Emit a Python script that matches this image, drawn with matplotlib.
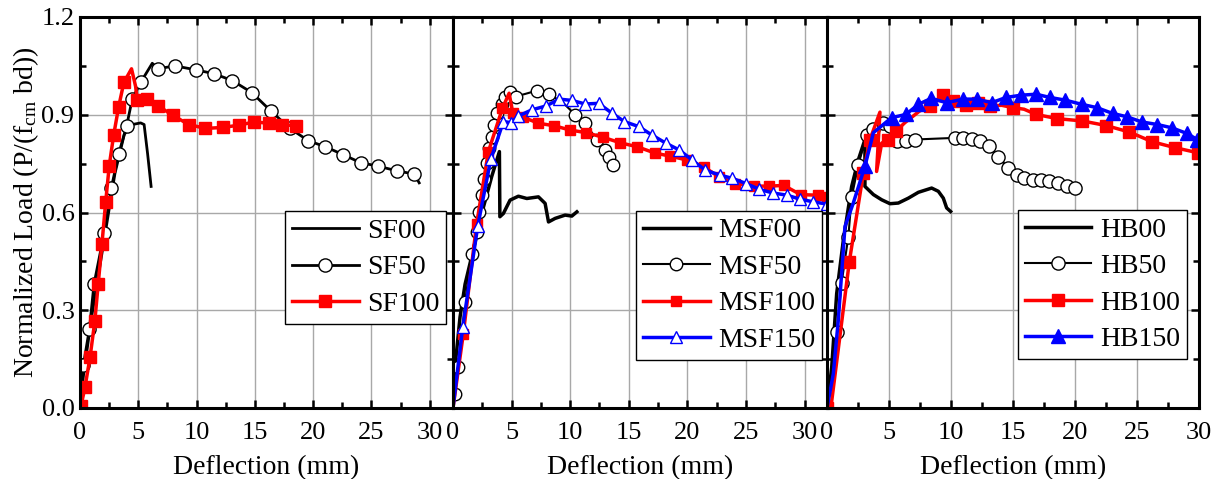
import matplotlib
matplotlib.use("Agg")
import matplotlib.pyplot as plt
from matplotlib.ticker import MultipleLocator, FormatStrFormatter

plt.rcParams['font.family'] = ['Liberation Serif', 'DejaVu Serif']
plt.rcParams['mathtext.fontset'] = 'custom'
plt.rcParams['mathtext.rm'] = 'Liberation Serif'
plt.rcParams['mathtext.it'] = 'Liberation Serif:italic'

# ---------------- Panel 1: SF ----------------
sf00_x = [0, 0.3, 1.0, 2.0, 3.0, 3.8, 4.5, 5.2, 5.5, 5.8, 6.1]
sf00_y = [0, 0.10, 0.28, 0.50, 0.72, 0.84, 0.87, 0.875, 0.87, 0.78, 0.68]

sf50_x = [0, 0.29, 0.81, 1.2, 2.08, 2.69, 3.32, 3.99, 4.48, 5.2, 6.2, 6.65, 8.15, 9.91, 11.5,
          13.06, 14.74, 16.42, 17.98, 19.6, 21.04, 22.54, 24.07, 25.6, 27.17, 28.67, 29.1]
sf50_y = [0, 0.132, 0.243, 0.38, 0.538, 0.676, 0.78, 0.864, 0.948, 0.999, 1.058, 1.041, 1.05,
          1.038, 1.026, 1.005, 0.968, 0.91, 0.859, 0.82, 0.802, 0.778, 0.753, 0.742, 0.728,
          0.718, 0.691]
sf50_mk = [i for i in range(26) if i != 10]

sf100_x = [0.09, 0.43, 0.87, 1.27, 1.56, 1.88, 2.2, 2.51, 2.89, 3.32, 3.76, 4.42, 4.77, 4.91,
           5.78, 6.73, 7.95, 9.34, 10.75, 12.23, 13.64, 14.94, 16.2, 17.34, 18.5]
sf100_y = [0.007, 0.064, 0.158, 0.266, 0.38, 0.502, 0.631, 0.744, 0.838, 0.925, 0.999, 1.041,
           0.987, 0.944, 0.949, 0.927, 0.898, 0.87, 0.858, 0.861, 0.868, 0.878, 0.874, 0.87, 0.866]
sf100_mk = [i for i in range(25) if i not in (11, 12)]

# ---------------- Panel 2: MSF ----------------
msf00_x = [0, 0.17, 0.6, 1.03, 2.6, 3.3, 3.96, 4.0, 4.3, 4.87, 5.58, 6.3, 7.29, 7.86, 8.15,
           8.72, 9.57, 10.14, 10.57]
msf00_y = [0, 0.125, 0.279, 0.38, 0.617, 0.71, 0.787, 0.587, 0.597, 0.638, 0.65, 0.643, 0.648,
           0.628, 0.571, 0.582, 0.592, 0.589, 0.602]

msf50_x = [0, 0.17, 0.46, 1.03, 1.6, 2.02, 2.22, 2.45, 2.68, 2.88, 3.1, 3.3, 3.5, 3.79, 4.16,
           4.44, 4.87, 5.3, 5.38, 7.15, 8.15, 9.3, 10.43, 11.28, 12.28, 13.0, 13.28, 13.65]
msf50_y = [0, 0.043, 0.125, 0.325, 0.474, 0.54, 0.602, 0.653, 0.702, 0.751, 0.797, 0.833, 0.869,
           0.905, 0.933, 0.956, 0.971, 0.978, 0.956, 0.974, 0.963, 0.94, 0.9, 0.874, 0.823, 0.792,
           0.771, 0.746]
msf50_mk = [i for i in range(28) if i not in (0, 17, 21)]

msf100_x = [0, 0.88, 2.02, 3.02, 4.22, 4.79, 5.1, 6.01, 7.29, 8.66, 10.0, 11.37, 12.79, 14.27,
            15.7, 17.27, 18.55, 19.97, 21.4, 22.68, 24.1, 25.67, 26.95, 28.23, 29.66, 31.14, 31.93]
msf100_y = [0, 0.228, 0.566, 0.787, 0.92, 0.966, 0.905, 0.892, 0.874, 0.866, 0.853, 0.845, 0.831,
            0.814, 0.802, 0.782, 0.773, 0.761, 0.74, 0.71, 0.689, 0.681, 0.681, 0.683, 0.655,
            0.653, 0.648]
msf100_mk = [i for i in range(27) if i not in (0, 5)]

msf150_x = [0, 0.83, 2.11, 3.22, 4.3, 4.93, 5.58, 6.72, 7.95, 9.06, 10.14, 11.28, 12.42, 13.56,
            14.62, 15.83, 16.97, 18.2, 19.31, 20.4, 21.53, 22.76, 23.82, 25.01, 26.15, 27.29,
            28.52, 29.6, 30.71, 31.88]
msf150_y = [0, 0.248, 0.558, 0.763, 0.879, 0.876, 0.896, 0.915, 0.927, 0.948, 0.944, 0.933, 0.935,
            0.905, 0.879, 0.864, 0.838, 0.812, 0.792, 0.761, 0.73, 0.715, 0.705, 0.689, 0.671,
            0.66, 0.653, 0.641, 0.633, 0.626]
msf150_mk = list(range(1, 30))

# ---------------- Panel 3: HB ----------------
hb00_x = [0, 0.38, 0.78, 1.32, 1.99, 2.53, 3.06, 3.06, 3.74, 4.41, 5.08, 5.75, 6.56, 7.37,
          8.44, 8.98, 9.38, 9.65, 9.97]
hb00_y = [0, 0.125, 0.351, 0.516, 0.68, 0.762, 0.824, 0.68, 0.655, 0.639, 0.627, 0.629, 0.644,
          0.662, 0.675, 0.665, 0.644, 0.614, 0.603]

hb50_x = [0, 0.78, 1.18, 1.72, 1.99, 2.53, 3.2, 3.74, 4.54, 5.08, 5.62, 6.37, 7.09, 10.3,
          10.99, 11.67, 12.34, 13.09, 13.82, 14.62, 15.3, 15.89, 16.59, 17.23, 17.93, 18.6,
          19.33, 20.0]
hb50_y = [0, 0.233, 0.384, 0.526, 0.647, 0.747, 0.838, 0.855, 0.876, 0.865, 0.819, 0.819, 0.824,
          0.829, 0.829, 0.826, 0.819, 0.804, 0.77, 0.737, 0.716, 0.706, 0.701, 0.699, 0.696,
          0.69, 0.682, 0.675]

hb100_x = [0, 0.35, 1.8, 2.93, 3.47, 4.27, 4.0, 4.41, 4.95, 5.56, 6.29, 7.45, 8.3, 9.33,
           10.19, 11.21, 12.21, 13.15, 14.09, 14.97, 15.89, 16.86, 18.58, 20.59, 22.5, 24.38,
           26.24, 28.06, 29.95]
hb100_y = [0, 0.012, 0.449, 0.721, 0.824, 0.908, 0.726, 0.813, 0.824, 0.85, 0.876, 0.911, 0.927,
           0.961, 0.942, 0.929, 0.935, 0.927, 0.929, 0.922, 0.917, 0.901, 0.888, 0.881, 0.867,
           0.847, 0.817, 0.799, 0.783]
hb100_mk = [0, 2, 3, 4, 8, 9, 12, 13, 14, 15, 16, 17, 19, 21, 22, 23, 24, 25, 26, 27, 28]

hb150_x = [0, 0.51, 0.91, 1.45, 2.12, 3.06, 3.74, 5.21, 6.37, 7.37, 8.39, 9.65, 10.99, 12.07,
           13.28, 14.43, 15.64, 16.86, 17.99, 19.2, 20.54, 21.75, 23.04, 24.17, 25.38, 26.64,
           27.8, 29.0, 29.86]
hb150_y = [0, 0.105, 0.269, 0.557, 0.629, 0.742, 0.845, 0.891, 0.901, 0.932, 0.95, 0.937, 0.948,
           0.948, 0.937, 0.953, 0.96, 0.963, 0.953, 0.945, 0.932, 0.922, 0.904, 0.894, 0.878,
           0.87, 0.86, 0.843, 0.824]
hb150_mk = [5] + list(range(7, 29))

W, H = 1217, 479
fig = plt.figure(figsize=(W / 100, H / 100), dpi=100)

bottom = 71 / H
height = 391 / H
ax1 = fig.add_axes([80 / W, bottom, 373 / W, height])
ax2 = fig.add_axes([453 / W, bottom, 375 / W, height])
ax3 = fig.add_axes([827 / W, bottom, 372 / W, height])

FS_TICK = 19
FS_LAB = 20
FS_LEG = 20


def style(ax, xmax, show_y):
    ax.set_xlim(0, xmax)
    ax.set_ylim(0, 1.2)
    ax.xaxis.set_major_locator(MultipleLocator(5))
    ax.xaxis.set_minor_locator(MultipleLocator(2.5))
    ax.yaxis.set_major_locator(MultipleLocator(0.3))
    ax.yaxis.set_minor_locator(MultipleLocator(0.15))
    ax.yaxis.set_major_formatter(FormatStrFormatter('%.1f'))
    ax.grid(True, which='major', color='#a8a8a8', linewidth=1.0)
    ax.set_axisbelow(True)
    ax.tick_params(which='both', direction='in', top=True, right=True,
                   labelsize=FS_TICK, width=1.8)
    ax.tick_params(axis='x', which='both', pad=10)
    ax.tick_params(axis='y', which='both', pad=4)
    ax.tick_params(which='major', length=6)
    ax.tick_params(which='minor', length=4)
    if not show_y:
        ax.tick_params(axis='y', labelleft=False)
    for s in ax.spines.values():
        s.set_linewidth(2.2)
    ax.set_xlabel('Deflection (mm)', fontsize=FS_LAB, labelpad=8)


def leg(ax, anchor):
    ax.legend(loc='lower left', bbox_to_anchor=anchor, fontsize=FS_LEG, frameon=True,
              fancybox=False, edgecolor='black', framealpha=1, handlelength=2.4,
              handletextpad=0.3, labelspacing=0.4, borderpad=0.25, borderaxespad=0)


# Panel 1
ax1.plot(sf00_x, sf00_y, color='black', lw=2, label='SF00')
ax1.plot(sf50_x, sf50_y, color='black', lw=2, marker='o', ms=9.5, mfc='white', mec='black',
         mew=1, markevery=sf50_mk, label='SF50')
ax1.plot(sf100_x, sf100_y, color='red', lw=2.5, marker='s', ms=8, mfc='red', mec='red',
         markevery=sf100_mk, label='SF100')
style(ax1, 32, True)
ax1.set_ylabel(r'Normalized Load (P/(f$_{\mathrm{cm}}$ bd))', fontsize=FS_LAB, labelpad=0)
leg(ax1, (0.55, 0.215))

# Panel 2
ax2.plot(msf00_x, msf00_y, color='black', lw=2.5, label='MSF00')
ax2.plot(msf50_x, msf50_y, color='black', lw=1.5, marker='o', ms=9, mfc='white', mec='black',
         mew=1, markevery=msf50_mk, label='MSF50')
ax2.plot(msf100_x, msf100_y, color='red', lw=2.5, marker='s', ms=7, mfc='red', mec='red',
         markevery=msf100_mk, label='MSF100')
ax2.plot(msf150_x, msf150_y, color='blue', lw=2.5, marker='^', ms=8.5, mfc='white', mec='blue',
         mew=1, markevery=msf150_mk, label='MSF150')
style(ax2, 32, False)
leg(ax2, (0.488, 0.123))

# Panel 3
ax3.plot(hb00_x, hb00_y, color='black', lw=2.5, label='HB00')
ax3.plot(hb50_x, hb50_y, color='black', lw=1.5, marker='o', ms=9.5, mfc='white', mec='black',
         mew=1, markevery=list(range(1, 28)), label='HB50')
ax3.plot(hb100_x, hb100_y, color='red', lw=2.5, marker='s', ms=8.5, mfc='red', mec='red',
         markevery=hb100_mk, label='HB100')
ax3.plot(hb150_x, hb150_y, color='blue', lw=2.5, marker='^', ms=10, mfc='blue', mec='blue',
         markevery=hb150_mk, label='HB150')
style(ax3, 30, False)
leg(ax3, (0.513, 0.125))

fig.savefig('out.png', dpi=100)
